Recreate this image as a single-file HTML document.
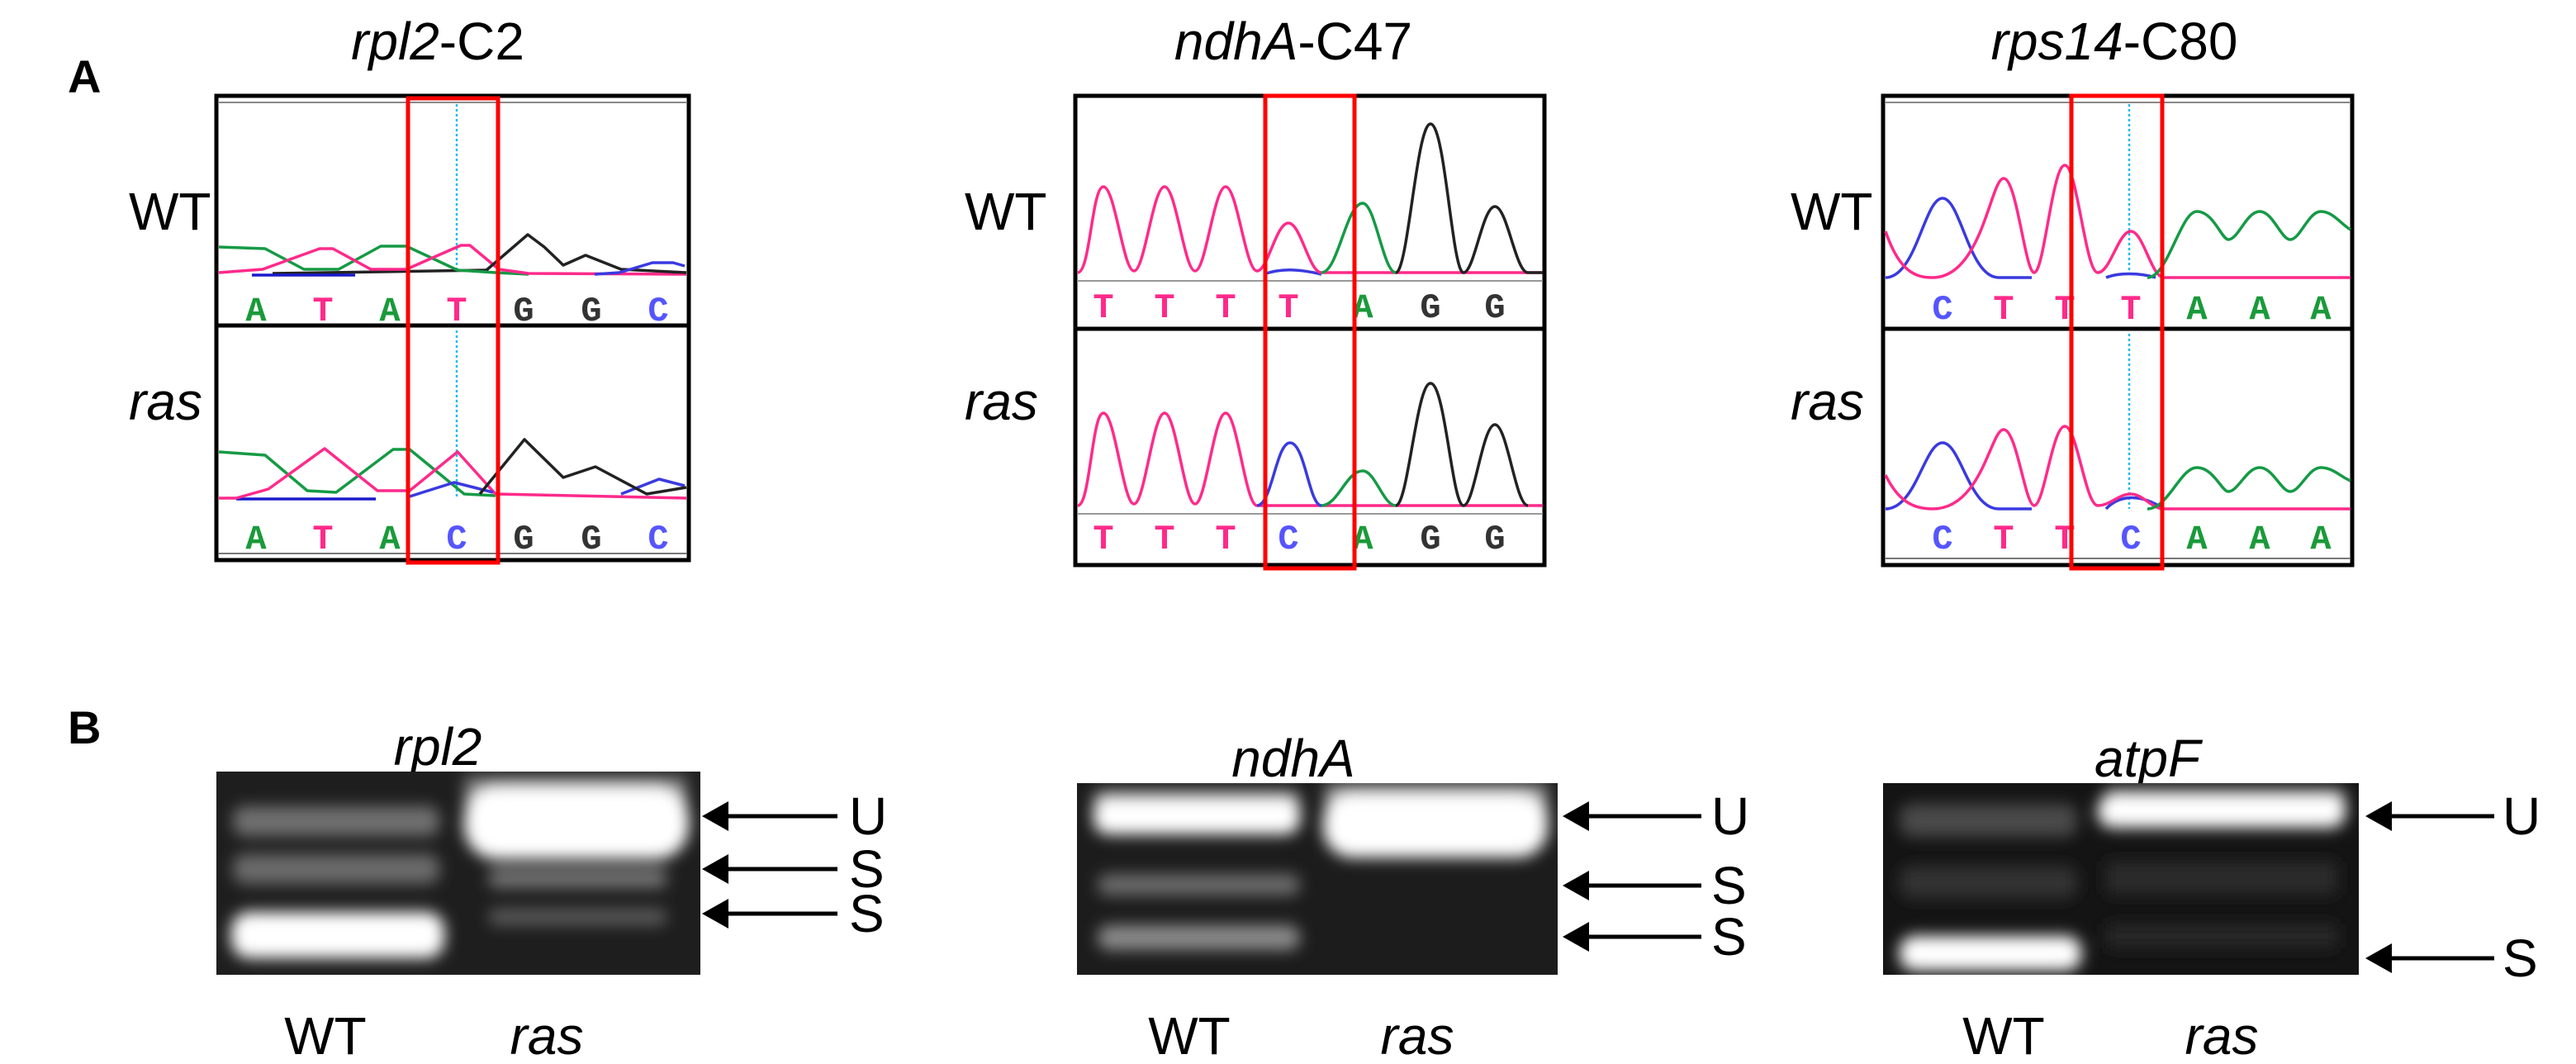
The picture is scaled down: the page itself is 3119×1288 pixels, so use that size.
<!DOCTYPE html>
<html><head><meta charset="utf-8"><style>
html,body{margin:0;padding:0;background:#fff;}
svg{display:block;}
text{font-family:"Liberation Sans",sans-serif;}
.t{font-size:64px;fill:#000;}
.i{font-style:italic;}
.b{font-family:"Liberation Mono",monospace;font-weight:bold;font-size:42px;text-anchor:middle;}
.tr{fill:none;stroke-width:3.5;stroke-linejoin:round;}
</style></head><body>
<svg width="3119" height="1288" viewBox="0 0 3119 1288" xmlns="http://www.w3.org/2000/svg">
<defs>
<filter id="bl" x="-20%" y="-50%" width="140%" height="200%"><feGaussianBlur stdDeviation="9"/></filter>
</defs>
<rect width="3119" height="1288" fill="#fff"/>
<text x="82" y="112" style="font-size:56px;font-weight:bold">A</text>
<text x="82" y="900" style="font-size:56px;font-weight:bold">B</text>

<text class="t" x="530" y="72" text-anchor="middle"><tspan class="i">rpl2</tspan>-C2</text>
<text class="t" x="1566" y="72" text-anchor="middle"><tspan class="i">ndhA</tspan>-C47</text>
<text class="t" x="2560" y="72" text-anchor="middle"><tspan class="i">rps14</tspan>-C80</text>

<text class="t" x="156" y="278">WT</text>
<text class="t i" x="156" y="508">ras</text>
<text class="t" x="1168" y="278">WT</text>
<text class="t i" x="1168" y="508">ras</text>
<text class="t" x="2168" y="278">WT</text>
<text class="t i" x="2168" y="508">ras</text>

<!-- Box 1 -->
<g>
<rect x="262" y="116" width="572" height="562" fill="#fff" stroke="#000" stroke-width="5"/>
<line x1="264" y1="124" x2="832" y2="124" stroke="#888" stroke-width="2"/>
<line x1="264" y1="394" x2="832" y2="394" stroke="#000" stroke-width="5"/>
<line x1="264" y1="670" x2="832" y2="670" stroke="#777" stroke-width="2"/>
<line x1="553" y1="126" x2="553" y2="330" stroke="#22bbee" stroke-width="2.5" stroke-dasharray="3,3"/>
<line x1="553" y1="400" x2="553" y2="603" stroke="#22bbee" stroke-width="2.5" stroke-dasharray="3,3"/>
<polyline class="tr" stroke="#222" points="330,331 589,327"/>
<polyline class="tr" stroke="#1a1acc" points="305,333 430,333"/>
<polyline class="tr" stroke="#159a45" points="265,299 321,301 368,326 410,326 461,298 492,298 554,327 600,330 640,332"/>
<polyline class="tr" stroke="#ff2a8a" points="265,330 318,326 387,301 403,301 449,326 492,326 558,297 569,297 604,326 640,331 831,332"/>
<polyline class="tr" stroke="#222" points="589,327 639,284 659,299 682,321 709,309 752,326 831,330"/>
<polyline class="tr" stroke="#3a3ae0" points="720,332 750,330 790,318 815,318 829,322"/>
<text class="b" x="310" y="388" fill="#1a9a3a">A</text>
<text class="b" x="391" y="388" fill="#ff2a8a">T</text>
<text class="b" x="472" y="388" fill="#1a9a3a">A</text>
<text class="b" x="553" y="388" fill="#ff2a8a">T</text>
<text class="b" x="634" y="388" fill="#333">G</text>
<text class="b" x="716" y="388" fill="#333">G</text>
<text class="b" x="797" y="388" fill="#5555ff">C</text>
<polyline class="tr" stroke="#1a1acc" points="286,604 455,604"/>
<polyline class="tr" stroke="#159a45" points="265,547 321,551 372,594 407,596 476,544 496,544 562,598 600,600"/>
<polyline class="tr" stroke="#ff2a8a" points="265,603 286,603 325,592 393,543 457,594 496,594 554,547 600,598 831,603"/>
<polyline class="tr" stroke="#3a3ae0" points="496,601 550,584 597,596"/>
<polyline class="tr" stroke="#3a3ae0" points="752,598 798,580 829,588"/>
<polyline class="tr" stroke="#222" points="581,598 635,532 682,578 721,565 783,598 831,590"/>
<text class="b" x="310" y="664" fill="#1a9a3a">A</text>
<text class="b" x="391" y="664" fill="#ff2a8a">T</text>
<text class="b" x="472" y="664" fill="#1a9a3a">A</text>
<text class="b" x="553" y="664" fill="#5555ff">C</text>
<text class="b" x="634" y="664" fill="#333">G</text>
<text class="b" x="716" y="664" fill="#333">G</text>
<text class="b" x="797" y="664" fill="#5555ff">C</text>
<rect x="494" y="119" width="109" height="562" fill="none" stroke="#f00" stroke-width="5"/>
</g>

<!-- Box 2 -->
<g>
<rect x="1302" y="116" width="568" height="568" fill="#fff" stroke="#000" stroke-width="5"/>
<line x1="1304" y1="398" x2="1868" y2="398" stroke="#000" stroke-width="5"/>
<line x1="1304" y1="340" x2="1868" y2="340" stroke="#999" stroke-width="2"/>
<line x1="1304" y1="622" x2="1868" y2="622" stroke="#999" stroke-width="2"/>
<path class="tr" stroke="#3a3ae0" d="M1530 332 C1550 325 1570 325 1600 332"/>
<path class="tr" stroke="#ff2a8a" d="M1305 330 C1320 330 1322 226 1336 226 C1350 226 1360 328 1373 328 C1386 328 1396 226 1410 226 C1424 226 1434 328 1447 328 C1460 328 1470 226 1484 226 C1498 226 1508 328 1522 328 C1535 328 1545 270 1560 270 C1575 270 1585 330 1600 330 L1868 330"/>
<path class="tr" stroke="#159a45" d="M1600 330 C1620 330 1630 246 1650 246 C1665 246 1675 330 1690 330"/>
<path class="tr" stroke="#222" d="M1690 330 C1705 330 1715 150 1732 150 C1750 150 1758 330 1772 330 C1785 330 1795 250 1810 250 C1825 250 1835 330 1850 330 L1868 330"/>
<text class="b" x="1336" y="384" fill="#ff2a8a">T</text>
<text class="b" x="1410" y="384" fill="#ff2a8a">T</text>
<text class="b" x="1484" y="384" fill="#ff2a8a">T</text>
<text class="b" x="1560" y="384" fill="#ff2a8a">T</text>
<text class="b" x="1650" y="384" fill="#1a9a3a">A</text>
<text class="b" x="1732" y="384" fill="#333">G</text>
<text class="b" x="1810" y="384" fill="#333">G</text>
<path class="tr" stroke="#ff2a8a" d="M1305 612 C1320 612 1322 500 1336 500 C1350 500 1360 610 1373 610 C1386 610 1396 500 1410 500 C1424 500 1434 610 1447 610 C1460 610 1470 500 1484 500 C1498 500 1508 612 1522 612 L1868 612"/>
<path class="tr" stroke="#3a3ae0" d="M1522 612 C1540 612 1545 536 1562 536 C1580 536 1585 612 1600 612"/>
<path class="tr" stroke="#159a45" d="M1600 612 C1620 612 1630 570 1650 570 C1665 570 1675 612 1690 612"/>
<path class="tr" stroke="#222" d="M1690 612 C1705 612 1715 464 1732 464 C1750 464 1758 612 1772 612 C1785 612 1795 514 1810 514 C1825 514 1835 612 1850 612"/>
<text class="b" x="1336" y="664" fill="#ff2a8a">T</text>
<text class="b" x="1410" y="664" fill="#ff2a8a">T</text>
<text class="b" x="1484" y="664" fill="#ff2a8a">T</text>
<text class="b" x="1560" y="664" fill="#5555ff">C</text>
<text class="b" x="1650" y="664" fill="#1a9a3a">A</text>
<text class="b" x="1732" y="664" fill="#333">G</text>
<text class="b" x="1810" y="664" fill="#333">G</text>
<rect x="1532" y="116" width="108" height="572" fill="none" stroke="#f00" stroke-width="5"/>
</g>

<!-- Box 3 -->
<g>
<rect x="2280" y="116" width="568" height="568" fill="#fff" stroke="#000" stroke-width="5"/>
<line x1="2282" y1="124" x2="2846" y2="124" stroke="#888" stroke-width="2"/>
<line x1="2282" y1="398" x2="2846" y2="398" stroke="#000" stroke-width="5"/>
<line x1="2282" y1="676" x2="2846" y2="676" stroke="#777" stroke-width="2"/>
<line x1="2578" y1="126" x2="2578" y2="336" stroke="#22bbee" stroke-width="2.5" stroke-dasharray="3,3"/>
<line x1="2578" y1="404" x2="2578" y2="616" stroke="#22bbee" stroke-width="2.5" stroke-dasharray="3,3"/>
<path class="tr" stroke="#3a3ae0" d="M2283 336 C2320 336 2330 240 2352 240 C2374 240 2384 336 2420 336 L2460 336 M2550 336 C2565 330 2590 330 2610 336"/>
<path class="tr" stroke="#ff2a8a" d="M2283 280 C2300 330 2320 336 2340 336 C2400 336 2410 216 2426 216 C2442 216 2452 330 2463 330 C2475 330 2485 200 2500 200 C2515 200 2525 330 2540 330 C2555 330 2565 280 2580 280 C2595 280 2605 336 2620 336 L2846 336"/>
<path class="tr" stroke="#159a45" d="M2600 336 C2625 336 2640 256 2660 256 C2680 256 2690 290 2698 290 C2710 290 2720 256 2736 256 C2752 256 2762 290 2773 290 C2785 290 2795 256 2810 256 C2825 256 2835 272 2846 278"/>
<text class="b" x="2352" y="386" fill="#5555ff">C</text>
<text class="b" x="2426" y="386" fill="#ff2a8a">T</text>
<text class="b" x="2500" y="386" fill="#ff2a8a">T</text>
<text class="b" x="2580" y="386" fill="#ff2a8a">T</text>
<text class="b" x="2660" y="386" fill="#1a9a3a">A</text>
<text class="b" x="2736" y="386" fill="#1a9a3a">A</text>
<text class="b" x="2810" y="386" fill="#1a9a3a">A</text>
<path class="tr" stroke="#3a3ae0" d="M2283 616 C2320 616 2330 536 2352 536 C2374 536 2384 616 2420 616 L2460 616 M2550 616 C2565 600 2590 596 2620 616"/>
<path class="tr" stroke="#ff2a8a" d="M2283 575 C2300 610 2320 616 2340 616 C2400 616 2410 520 2426 520 C2442 520 2452 612 2463 612 C2475 612 2485 516 2500 516 C2515 516 2525 612 2540 612 C2555 612 2565 598 2580 598 C2595 598 2605 616 2620 616 L2846 616"/>
<path class="tr" stroke="#159a45" d="M2600 616 C2625 616 2640 566 2660 566 C2680 566 2690 595 2698 595 C2710 595 2720 566 2736 566 C2752 566 2762 595 2773 595 C2785 595 2795 566 2810 566 C2825 566 2835 578 2846 582"/>
<text class="b" x="2352" y="664" fill="#5555ff">C</text>
<text class="b" x="2426" y="664" fill="#ff2a8a">T</text>
<text class="b" x="2500" y="664" fill="#ff2a8a">T</text>
<text class="b" x="2580" y="664" fill="#5555ff">C</text>
<text class="b" x="2660" y="664" fill="#1a9a3a">A</text>
<text class="b" x="2736" y="664" fill="#1a9a3a">A</text>
<text class="b" x="2810" y="664" fill="#1a9a3a">A</text>
<rect x="2508" y="116" width="110" height="572" fill="none" stroke="#f00" stroke-width="5"/>
</g>

<text class="t i" x="530" y="926" text-anchor="middle">rpl2</text>
<text class="t i" x="1566" y="940" text-anchor="middle">ndhA</text>
<text class="t i" x="2600" y="940" text-anchor="middle">atpF</text>

<!-- Gel 1 -->
<svg x="262" y="934" width="586" height="246" overflow="hidden">
<rect width="586" height="246" fill="#1e1e1e"/>
<g filter="url(#bl)">
<rect x="20" y="42" width="250" height="36" rx="14" fill="#707070"/>
<rect x="20" y="100" width="250" height="36" rx="14" fill="#6a6a6a"/>
<rect x="18" y="170" width="258" height="56" rx="22" fill="#fff"/>
<rect x="300" y="5" width="270" height="35" fill="#777"/>
<rect x="300" y="18" width="272" height="88" rx="40" fill="#fff"/>
<rect x="330" y="118" width="215" height="22" rx="8" fill="#777"/>
<rect x="330" y="166" width="215" height="20" rx="8" fill="#5a5a5a"/>
</g>
</svg>
<!-- Gel 2 -->
<svg x="1304" y="948" width="582" height="232" overflow="hidden">
<rect width="582" height="232" fill="#1c1c1c"/>
<g filter="url(#bl)">
<rect x="20" y="5" width="250" height="30" fill="#555"/>
<rect x="20" y="18" width="250" height="44" rx="18" fill="#fff"/>
<rect x="25" y="110" width="245" height="26" rx="12" fill="#6a6a6a"/>
<rect x="25" y="172" width="245" height="30" rx="14" fill="#8a8a8a"/>
<rect x="300" y="0" width="270" height="40" fill="#888"/>
<rect x="298" y="12" width="272" height="78" rx="36" fill="#fff"/>
</g>
</svg>
<!-- Gel 3 -->
<svg x="2280" y="948" width="576" height="232" overflow="hidden">
<rect width="576" height="232" fill="#141414"/>
<g filter="url(#bl)">
<rect x="20" y="25" width="215" height="40" rx="14" fill="#4a4a4a"/>
<rect x="20" y="100" width="215" height="40" rx="14" fill="#333"/>
<rect x="20" y="185" width="220" height="42" rx="18" fill="#fff"/>
<rect x="270" y="5" width="290" height="25" fill="#666"/>
<rect x="260" y="14" width="300" height="40" rx="18" fill="#fff"/>
<rect x="270" y="95" width="280" height="40" fill="#2c2c2c"/>
<rect x="270" y="170" width="280" height="30" fill="#262626"/>
</g>
</svg>

<g fill="#000" stroke="#000">
<line x1="875" y1="988" x2="1014" y2="988" stroke-width="5"/><polygon points="850,988 882,970 882,1006" stroke="none"/>
<line x1="875" y1="1052" x2="1014" y2="1052" stroke-width="5"/><polygon points="850,1052 882,1034 882,1070" stroke="none"/>
<line x1="875" y1="1106" x2="1014" y2="1106" stroke-width="5"/><polygon points="850,1106 882,1088 882,1124" stroke="none"/>
<line x1="1918" y1="988" x2="2060" y2="988" stroke-width="5"/><polygon points="1892,988 1924,970 1924,1006" stroke="none"/>
<line x1="1918" y1="1072" x2="2060" y2="1072" stroke-width="5"/><polygon points="1892,1072 1924,1054 1924,1090" stroke="none"/>
<line x1="1918" y1="1134" x2="2060" y2="1134" stroke-width="5"/><polygon points="1892,1134 1924,1116 1924,1152" stroke="none"/>
<line x1="2890" y1="988" x2="3020" y2="988" stroke-width="5"/><polygon points="2864,988 2896,970 2896,1006" stroke="none"/>
<line x1="2890" y1="1160" x2="3020" y2="1160" stroke-width="5"/><polygon points="2864,1160 2896,1142 2896,1178" stroke="none"/>
</g>
<text class="t" x="1028" y="1010">U</text>
<text class="t" x="1028" y="1074">S</text>
<text class="t" x="1028" y="1128">S</text>
<text class="t" x="2072" y="1010">U</text>
<text class="t" x="2072" y="1094">S</text>
<text class="t" x="2072" y="1156">S</text>
<text class="t" x="3030" y="1010">U</text>
<text class="t" x="3030" y="1182">S</text>

<text class="t" x="394" y="1276" text-anchor="middle">WT</text>
<text class="t i" x="662" y="1276" text-anchor="middle">ras</text>
<text class="t" x="1440" y="1276" text-anchor="middle">WT</text>
<text class="t i" x="1716" y="1276" text-anchor="middle">ras</text>
<text class="t" x="2426" y="1276" text-anchor="middle">WT</text>
<text class="t i" x="2690" y="1276" text-anchor="middle">ras</text>
</svg>
</body></html>
